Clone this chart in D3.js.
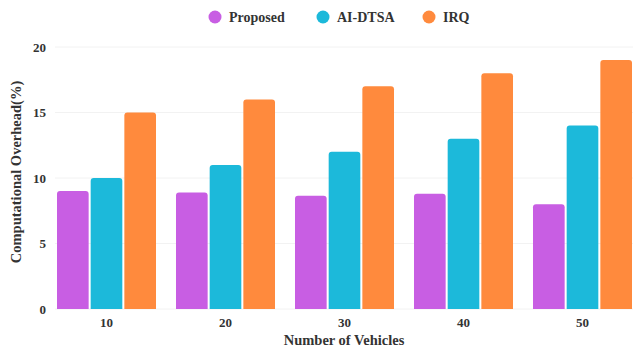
<!DOCTYPE html>
<html>
<head>
<meta charset="utf-8">
<script src="https://cdn.jsdelivr.net/npm/d3@7/dist/d3.min.js"></script>
<style>
  html, body { margin: 0; padding: 0; background: #fff; }
  text { font-family: "Liberation Serif", "Times New Roman", serif; font-weight: bold; fill: #333; }
</style>
</head>
<body>
<svg id="chart" width="633" height="352"></svg>
<script>
// Computational overhead by number of vehicles
const categories = ["10", "20", "30", "40", "50"];
const seriesNames = ["Proposed", "AI-DTSA", "IRQ"];
const proposed = [9.0, 8.9, 8.65, 8.8, 8.0];
const aiDtsa = [10, 11, 12, 13, 14];
const irq = [15, 16, 17, 18, 19];
const yTicks = [0, 5, 10, 15, 20];
const colors = ["#c85ee3", "#1cb9da", "#ff8a3d"];

const seriesValues = [proposed, aiDtsa, irq];

const svg = d3.select("#chart");
const margin = { top: 47, bottom: 43, left: 47, right: -9 };
const W = 633, H = 352;

const x0 = d3.scaleBand()
  .domain(categories)
  .range([margin.left, W - margin.right])
  .paddingInner(0.168)
  .paddingOuter(0.084);

const x1 = d3.scaleBand()
  .domain(seriesNames)
  .range([0, x0.bandwidth()])
  .paddingInner(0.06);

const y = d3.scaleLinear()
  .domain([0, 20])
  .range([H - margin.bottom, margin.top]);

// faint horizontal grid
svg.append("g")
  .selectAll("line")
  .data(yTicks)
  .join("line")
  .attr("x1", 55).attr("x2", W)
  .attr("y1", d => y(d)).attr("y2", d => y(d))
  .attr("stroke", "#f2f2f2")
  .attr("stroke-width", 1);

// y axis tick labels
const yAxis = d3.axisLeft(y).tickValues(yTicks).tickSize(0).tickPadding(0);
svg.append("g")
  .attr("transform", `translate(${46},0)`)
  .call(yAxis)
  .call(g => g.select(".domain").remove())
  .call(g => g.selectAll("text")
    .style("font-family", "'Liberation Serif', serif")
    .style("font-weight", "bold")
    .style("font-size", "13px")
    .attr("fill", "#444"));

// x axis tick labels
const xAxis = d3.axisBottom(x0).tickSize(0).tickPadding(0);
svg.append("g")
  .attr("transform", `translate(0,${y(0) + 9})`)
  .call(xAxis)
  .call(g => g.select(".domain").remove())
  .call(g => g.selectAll("text")
    .style("font-family", "'Liberation Serif', serif")
    .style("font-weight", "bold")
    .style("font-size", "13px")
    .attr("fill", "#333"));

// bars with rounded tops
function barPath(xl, w, yt, yb, r) {
  r = Math.min(r, w / 2, yb - yt);
  return `M${xl},${yb}V${yt + r}Q${xl},${yt} ${xl + r},${yt}H${xl + w - r}Q${xl + w},${yt} ${xl + w},${yt + r}V${yb}Z`;
}

const groups = svg.append("g")
  .selectAll("g")
  .data(categories)
  .join("g")
  .attr("transform", d => `translate(${x0(d)},0)`);

groups.selectAll("path")
  .data((d, i) => seriesNames.map((s, j) => ({ s, j, v: seriesValues[j][i] })))
  .join("path")
  .attr("d", d => barPath(x1(d.s), x1.bandwidth(), y(d.v), y(0), 3))
  .attr("fill", d => colors[d.j]);

// axis titles
svg.append("text")
  .attr("x", 344).attr("y", 345)
  .attr("text-anchor", "middle")
  .style("font-size", "14.5px")
  .text("Number of Vehicles");

svg.append("text")
  .attr("transform", `translate(${21},${172}) rotate(-90)`)
  .attr("text-anchor", "middle")
  .style("font-size", "14.5px")
  .text("Computational Overhead(%)");

// legend
const legendX = [215, 323, 429];
const legend = svg.append("g")
  .selectAll("g")
  .data(seriesNames)
  .join("g")
  .attr("transform", (d, i) => `translate(${legendX[i]},17)`);

legend.append("circle")
  .attr("r", 6.5)
  .attr("fill", (d, i) => colors[i]);

legend.append("text")
  .attr("x", 14)
  .attr("dy", "0.35em")
  .style("font-size", "14px")
  .text(d => d);
</script>
</body>
</html>
